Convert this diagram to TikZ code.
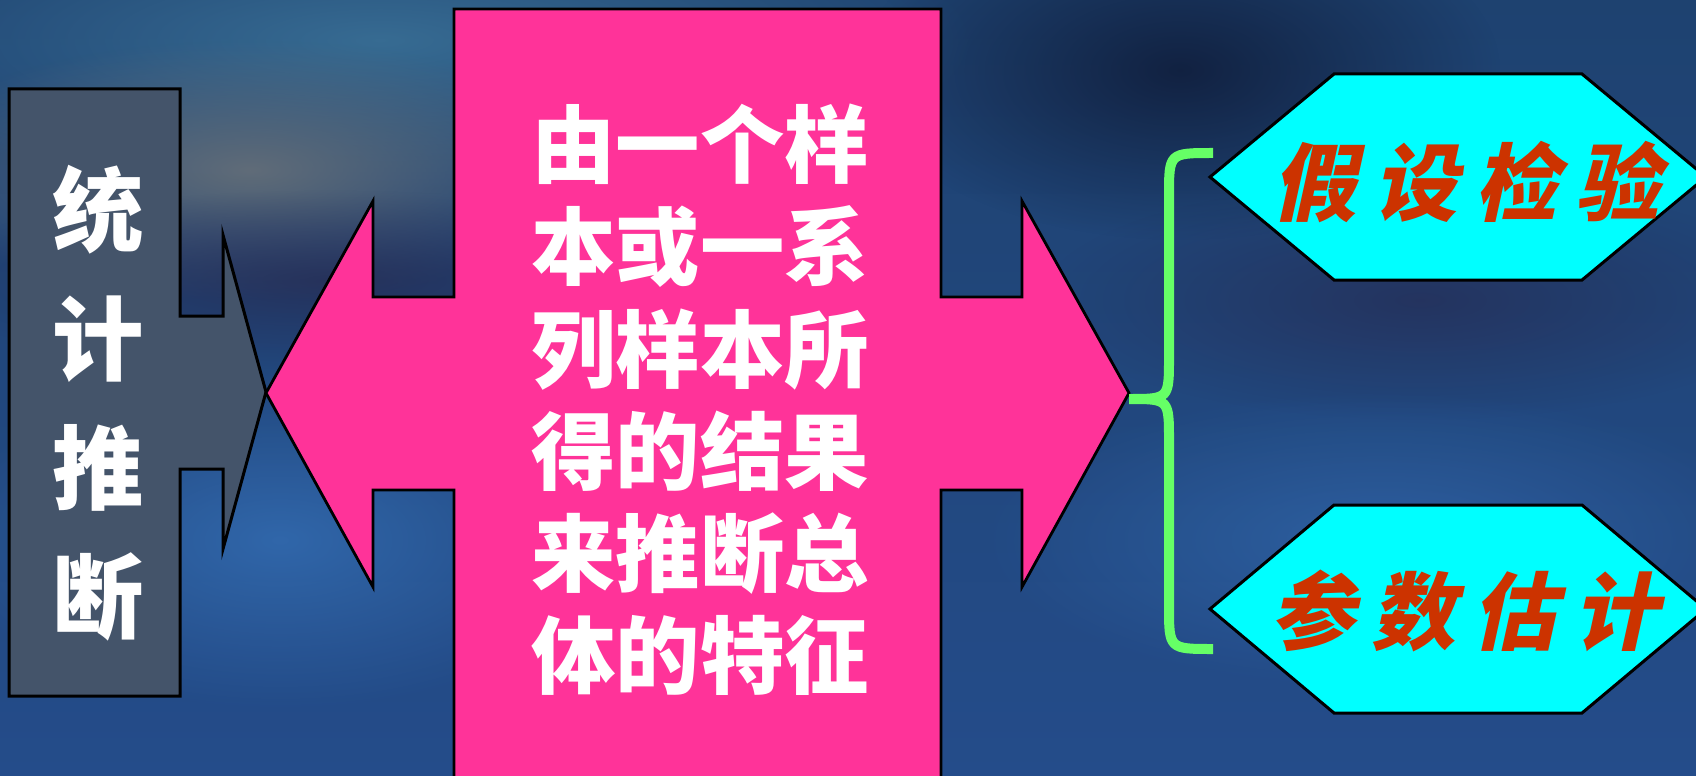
\documentclass[tikz,border=0pt]{standalone}
\usepackage{fontspec}
\newfontfamily\cjk{Noto Sans CJK SC}
\newfontfamily\cjkhex{Noto Sans CJK SC}[FakeSlant=0.22,LetterSpace=20]
\usetikzlibrary{fadings}
\tikzfading[name=softblob,inner color=transparent!0,outer color=transparent!100]
\definecolor{bgtop}{RGB}{30,66,112}
\definecolor{bgmid}{RGB}{30,60,114}
\definecolor{bgbot}{RGB}{36,76,138}
\definecolor{teal}{RGB}{58,112,150}
\definecolor{haze}{RGB}{96,108,120}
\definecolor{deep}{RGB}{16,30,60}
\definecolor{dusk}{RGB}{38,44,84}
\definecolor{glow}{RGB}{52,110,180}
\definecolor{slatefill}{RGB}{68,84,106}
\definecolor{hotpink}{RGB}{255,51,153}
\definecolor{aqua}{RGB}{0,255,255}
\definecolor{brick}{RGB}{204,51,0}
\definecolor{lime}{RGB}{102,255,102}
\tikzset{
  slate/.style={draw=black,line width=0.3mm,fill=slatefill,line join=miter},
  pinkarrow/.style={draw=black,line width=0.28mm,fill=hotpink,line join=miter},
  hexbox/.style={draw=black,line width=0.3mm,fill=aqua},
  bracket/.style={draw=lime,line width=1mm},
  sidetxt/.style={text=white,align=center,inner sep=0pt,
    font=\cjk\bfseries\fontsize{26}{36.7}\selectfont},
  bodytxt/.style={text=white,align=center,inner sep=0pt,
    font=\cjk\bfseries\fontsize{24}{29.1}\selectfont},
  hextxt/.style={text=brick,inner sep=0pt,
    font=\cjkhex\bfseries\fontsize{24}{28}\selectfont},
  blob/.style={path fading=softblob},
}
\begin{document}
\begin{tikzpicture}[x=0.1mm,y=-0.1mm]
  \useasboundingbox (0,0) rectangle (1696,776);
  % background
  \fill[top color=bgtop,middle color=bgmid,bottom color=bgbot] (0,0) rectangle (1696,776);
  \fill[teal,blob,opacity=0.9] (380,40) ellipse (600 and 150);
  \fill[haze,blob] (250,170) ellipse (360 and 130);
  \fill[dusk,blob,opacity=0.8] (330,280) ellipse (420 and 90);
  \fill[glow,blob,opacity=0.8] (280,540) ellipse (340 and 170);
  \fill[deep,blob,opacity=0.9] (1180,70) ellipse (320 and 170);
  \fill[dusk,blob,opacity=0.7] (1420,300) ellipse (380 and 120);
  \fill[glow,blob,opacity=0.6] (1380,540) ellipse (400 and 150);

  % left block with arrow
  \draw[slate] (9,89) -- (180,89) -- (180,316) -- (223,316) -- (223,235)
    -- (266,392) -- (223,549) -- (223,469) -- (180,469) -- (180,696)
    -- (9,696) -- cycle;
  \node[sidetxt] (stat) at (98,403) {统\\计\\推\\断};

  % pink double arrow
  \draw[pinkarrow] (454,9) -- (941,9) -- (941,297) -- (1022,297) -- (1022,201)
    -- (1129,393) -- (1022,587) -- (1022,490) -- (941,490) -- (941,790)
    -- (454,790) -- (454,490) -- (373,490) -- (373,587) -- (266,393)
    -- (373,201) -- (373,297) -- (454,297) -- cycle;
  \node[bodytxt] (desc) at (700,400)
    {由一个样\\本或一系\\列样本所\\得的结果\\来推断总\\体的特征};

  % two branches
  \draw[hexbox] (1210,177) -- (1334,74) -- (1582,74) -- (1706,177)
    -- (1582,280) -- (1334,280) -- cycle;
  \draw[hexbox] (1210,609) -- (1334,505) -- (1582,505) -- (1706,609)
    -- (1582,713) -- (1334,713) -- cycle;
  \node[hextxt] (test) at (1466,182) {假设检验};
  \node[hextxt] (est) at (1464,611) {参数估计};

  % brace
  \coordinate (tip) at (1129,399);
  \coordinate (btop) at (1213,153);
  \coordinate (bbot) at (1213,649);
  \draw[bracket] (btop) .. controls (1169,153) .. (1169,196) -- (1169,357)
    .. controls (1169,399) .. (tip) .. controls (1169,399) .. (1169,441)
    -- (1169,606) .. controls (1169,649) .. (bbot);
\end{tikzpicture}
\end{document}
